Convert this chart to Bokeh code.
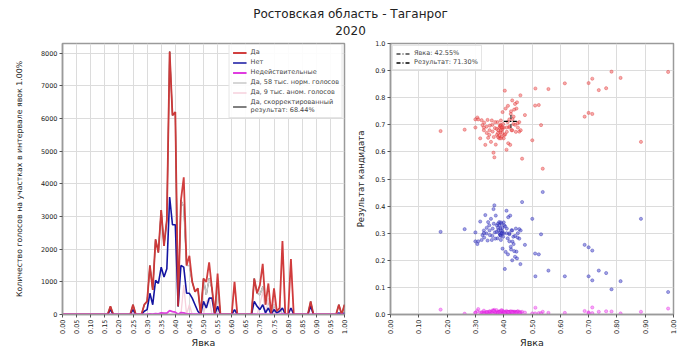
import math
import numpy as np
from bokeh.plotting import figure
from bokeh.layouts import column, row
from bokeh.models import FixedTicker, PrintfTickFormatter, Legend, LegendItem, Range1d
from bokeh.embed import file_html
from bokeh.resources import INLINE
from bokeh.core.properties import value

FONT = "DejaVu Sans"

title_lines = ["Ростовская область - Таганрог", "2020"]

# ---------------- histogram data (1% turnout bins 0.00 .. 1.00) ----------------
bins = np.round(np.arange(101) * 0.01, 2)

da = [
    0, 0, 0, 0, 0, 0, 0, 0, 0, 0,
    0, 0, 0, 0, 0, 0, 0, 250, 0, 0,
    0, 0, 0, 0, 0, 300, 0, 0, 0, 300,
    400, 1500, 750, 2300, 1900, 3200, 2100, 2900, 8050, 6100,
    6200, 250, 3500, 4200, 1500, 1800, 1000, 700, 800, 0,
    1100, 1000, 1600, 800, 0, 1250, 0, 0, 0, 0,
    0, 1000, 0, 0, 0, 0, 0, 0, 1100, 650,
    900, 1550, 300, 950, 0, 800, 100, 200, 2250, 0,
    0, 1700, 0, 0, 0, 0, 0, 0, 400, 0,
    0, 0, 0, 0, 0, 0, 0, 0, 300, 0,
    300]

net = [
    0, 0, 0, 0, 0, 0, 0, 0, 0, 0,
    0, 0, 0, 0, 0, 0, 0, 150, 0, 0,
    0, 0, 0, 0, 0, 150, 0, 0, 0, 100,
    150, 650, 300, 1050, 950, 1450, 1150, 1400, 3600, 2750,
    2750, 250, 1500, 1450, 650, 650, 500, 300, 100, 0,
    400, 200, 500, 500, 0, 250, 0, 0, 0, 0,
    0, 150, 0, 0, 0, 0, 0, 0, 400, 250,
    150, 300, 50, 200, 0, 150, 50, 100, 200, 0,
    0, 200, 0, 0, 0, 0, 0, 0, 250, 0,
    0, 0, 0, 0, 0, 0, 0, 0, 50, 0,
    50]

invalid_h = [
    0, 0, 0, 0, 0, 0, 0, 0, 0, 0,
    0, 0, 0, 0, 0, 0, 0, 5, 0, 0,
    0, 0, 0, 0, 0, 3, 0, 0, 0, 5,
    10, 20, 10, 30, 20, 50, 40, 40, 120, 90,
    70, 10, 60, 50, 20, 20, 10, 10, 10, 0,
    10, 10, 10, 10, 0, 10, 0, 0, 0, 0,
    0, 5, 0, 0, 0, 0, 0, 0, 10, 5,
    5, 10, 0, 5, 0, 5, 0, 0, 20, 0,
    0, 5, 0, 0, 0, 0, 0, 0, 5, 0,
    0, 0, 0, 0, 0, 0, 0, 0, 3, 0,
    3]

normal = [
    0, 0, 0, 0, 0, 0, 0, 0, 0, 0,
    0, 0, 0, 0, 0, 0, 0, 250, 0, 0,
    0, 0, 0, 0, 0, 300, 0, 0, 0, 300,
    400, 1500, 750, 2300, 1900, 3200, 2100, 2900, 8050, 6100,
    6200, 250, 3500, 3300, 1500, 1500, 1000, 700, 800, 0,
    1100, 600, 1100, 800, 0, 950, 0, 0, 0, 0,
    0, 0, 0, 0, 0, 0, 0, 0, 1100, 650,
    600, 850, 300, 450, 0, 300, 100, 200, 0, 0,
    0, 0, 0, 0, 0, 0, 0, 0, 400, 0,
    0, 0, 0, 0, 0, 0, 0, 0, 300, 0,
    300]

anomal = [
    0, 0, 0, 0, 0, 0, 0, 0, 0, 0,
    0, 0, 0, 0, 0, 0, 0, 0, 0, 0,
    0, 0, 0, 0, 0, 0, 0, 0, 0, 0,
    0, 0, 0, 0, 0, 0, 0, 0, 0, 0,
    0, 0, 0, 900, 0, 300, 0, 0, 0, 0,
    0, 400, 500, 0, 0, 300, 0, 0, 0, 0,
    0, 1000, 0, 0, 0, 0, 0, 0, 0, 0,
    300, 700, 0, 500, 0, 500, 0, 0, 2250, 0,
    0, 1700, 0, 0, 0, 0, 0, 0, 0, 0,
    0, 0, 0, 0, 0, 0, 0, 0, 0, 0,
    0]

corrected = normal

# ---------------- precinct data ----------------
turnout = [
    0.177, 0.262, 0.300, 0.307, 0.317, 0.322, 0.325, 0.331, 0.335, 0.339,
    0.343, 0.345, 0.349, 0.351, 0.355, 0.358, 0.361, 0.367, 0.364, 0.369,
    0.372, 0.376, 0.378, 0.381, 0.384, 0.387, 0.388, 0.390, 0.392, 0.395,
    0.396, 0.398, 0.402, 0.404, 0.407, 0.410, 0.411, 0.414, 0.416, 0.420,
    0.423, 0.426, 0.428, 0.431, 0.434, 0.437, 0.440, 0.443, 0.447, 0.449,
    0.455, 0.459, 0.465, 0.475, 0.501, 0.511, 0.512, 0.524, 0.532, 0.538,
    0.558, 0.616, 0.686, 0.700, 0.700, 0.713, 0.713, 0.736, 0.762, 0.781,
    0.813, 0.885, 0.981,
    0.385, 0.390, 0.395, 0.380, 0.390, 0.370, 0.360, 0.400, 0.410, 0.380,
    0.375, 0.395, 0.400, 0.405, 0.350, 0.340, 0.330, 0.365, 0.420, 0.430,
    0.440, 0.450, 0.460, 0.455, 0.330, 0.385, 0.390, 0.388, 0.392, 0.300,
    0.310, 0.420, 0.435, 0.425, 0.430, 0.415, 0.445]

yes_share = [
    0.677, 0.682, 0.690, 0.727, 0.650, 0.717, 0.699, 0.708, 0.626, 0.693,
    0.718, 0.652, 0.663, 0.697, 0.637, 0.716, 0.675, 0.580, 0.597, 0.688,
    0.627, 0.663, 0.710, 0.680, 0.650, 0.698, 0.672, 0.716, 0.656, 0.683,
    0.747, 0.703, 0.662, 0.826, 0.760, 0.608, 0.674, 0.710, 0.632, 0.694,
    0.626, 0.750, 0.680, 0.721, 0.703, 0.756, 0.777, 0.674, 0.783, 0.706,
    0.675, 0.809, 0.575, 0.736, 0.643, 0.771, 0.834, 0.773, 0.699, 0.538,
    0.832, 0.853, 0.730, 0.744, 0.854, 0.740, 0.870, 0.828, 0.835, 0.896,
    0.873, 0.637, 0.895,
    0.690, 0.680, 0.670, 0.670, 0.700, 0.710, 0.700, 0.690, 0.690, 0.655,
    0.685, 0.690, 0.650, 0.665, 0.680, 0.670, 0.680, 0.655, 0.690, 0.680,
    0.700, 0.690, 0.680, 0.710, 0.690, 0.660, 0.650, 0.695, 0.690, 0.720,
    0.720, 0.720, 0.730, 0.740, 0.790, 0.770, 0.760]

no_share = [
    0.305, 0.315, 0.303, 0.260, 0.343, 0.275, 0.293, 0.284, 0.367, 0.299,
    0.273, 0.341, 0.329, 0.293, 0.353, 0.275, 0.317, 0.403, 0.389, 0.303,
    0.365, 0.329, 0.281, 0.311, 0.341, 0.293, 0.319, 0.275, 0.335, 0.308,
    0.243, 0.287, 0.329, 0.168, 0.231, 0.383, 0.317, 0.281, 0.359, 0.296,
    0.365, 0.240, 0.311, 0.269, 0.287, 0.234, 0.213, 0.317, 0.207, 0.284,
    0.315, 0.186, 0.415, 0.257, 0.353, 0.225, 0.141, 0.222, 0.296, 0.452,
    0.162, 0.141, 0.257, 0.248, 0.141, 0.236, 0.126, 0.162, 0.153, 0.093,
    0.123, 0.353, 0.083,
    0.300, 0.310, 0.320, 0.320, 0.290, 0.280, 0.290, 0.300, 0.300, 0.335,
    0.305, 0.300, 0.340, 0.325, 0.310, 0.320, 0.310, 0.335, 0.300, 0.310,
    0.290, 0.300, 0.310, 0.280, 0.300, 0.330, 0.340, 0.295, 0.300, 0.270,
    0.270, 0.270, 0.260, 0.250, 0.200, 0.222, 0.232]

invalid_share = [
    0.018, 0.003, 0.007, 0.013, 0.007, 0.008, 0.008, 0.008, 0.007, 0.008,
    0.009, 0.007, 0.008, 0.010, 0.010, 0.009, 0.008, 0.017, 0.014, 0.009,
    0.008, 0.008, 0.009, 0.009, 0.009, 0.009, 0.009, 0.009, 0.009, 0.009,
    0.010, 0.010, 0.009, 0.006, 0.009, 0.009, 0.009, 0.009, 0.009, 0.010,
    0.009, 0.010, 0.009, 0.010, 0.010, 0.010, 0.010, 0.009, 0.010, 0.010,
    0.010, 0.005, 0.010, 0.007, 0.004, 0.004, 0.025, 0.005, 0.005, 0.010,
    0.006, 0.006, 0.013, 0.008, 0.005, 0.005, 0.026, 0.010, 0.012, 0.011,
    0.004, 0.010, 0.022,
    0.012, 0.006, 0.014, 0.004, 0.011, 0.008, 0.015, 0.005, 0.013, 0.007,
    0.016, 0.003, 0.011, 0.006, 0.012, 0.009, 0.004, 0.013, 0.007, 0.010,
    0.005, 0.012, 0.008, 0.006, 0.014, 0.009, 0.011, 0.004, 0.016, 0.006,
    0.020, 0.008, 0.005, 0.012, 0.007, 0.009, 0.006]

mean_turnout = 0.4255
mean_result = 0.7130
cross_half = 0.025

left_xticks = [round(i * 0.05, 2) for i in range(21)]
left_yticks = [0, 1000, 2000, 3000, 4000, 5000, 6000, 7000, 8000]
right_xticks = [round(i * 0.1, 1) for i in range(11)]
right_yticks = [round(i * 0.1, 1) for i in range(11)]

GRID = "#dcdcdc"
FRAME = "#9a9a9a"


def style(p):
    p.outline_line_color = FRAME
    p.outline_line_width = 1.5
    p.background_fill_color = "white"
    p.border_fill_color = "white"
    for ax in p.axis:
        ax.axis_line_color = FRAME
        ax.axis_line_width = 1.5
        ax.major_tick_line_color = "#555555"
        ax.major_tick_out = 3
        ax.major_tick_in = 0
        ax.minor_tick_line_color = None
        ax.major_label_text_font = FONT
        ax.major_label_text_font_size = "6.5px"
        ax.major_label_text_color = "#222222"
        ax.major_label_standoff = 2
        ax.axis_label_text_font = FONT
        ax.axis_label_text_font_size = "9.5px"
        ax.axis_label_text_font_style = "normal"
        ax.axis_label_text_color = "#222222"
    p.grid.grid_line_color = GRID
    p.grid.grid_line_width = 1


# ---------------- title ----------------
tp = figure(width=700, height=40, x_range=(0, 1), y_range=(0, 1),
            toolbar_location=None, output_backend="svg", min_border=0)
tp.axis.visible = False
tp.grid.visible = False
tp.outline_line_color = None
tp.text(x=[0.5, 0.5], y=[0.67, 0.25], text=title_lines, text_align="center",
        text_baseline="middle", text_font=value(FONT), text_font_size="12px",
        text_color="#222222")

# ---------------- left: histogram ----------------
left = figure(width=350, height=310, x_range=Range1d(0, 1), y_range=Range1d(0, 8300),
              toolbar_location=None, output_backend="svg",
              min_border_left=62, min_border_right=6, min_border_top=3, min_border_bottom=28)
style(left)
left.xaxis.ticker = FixedTicker(ticks=left_xticks)
left.xaxis.formatter = PrintfTickFormatter(format="%.2f")
left.xaxis.major_label_orientation = math.pi / 2
left.yaxis.ticker = FixedTicker(ticks=left_yticks)
left.xaxis.axis_label = "Явка"
left.yaxis.axis_label = "Количество голосов на участках в интервале явок 1.00%"
left.yaxis.axis_label_text_font_size = "7.8px"
left.xaxis.axis_label_standoff = 0
left.yaxis.axis_label_standoff = 14

r_corr = left.line(bins, corrected, line_color="black", line_width=1.0)
r_norm = left.line(bins, normal, line_color="#c8c8c8", line_width=1.5)
r_anom = left.line(bins, anomal, line_color="#f6d0dc", line_width=1.3)
r_net = left.line(bins, net, line_color="#1414a0", line_width=1.6)
r_da = left.line(bins, da, line_color="#cc2a2a", line_width=1.8, line_alpha=0.9)
r_inv = left.line(bins, invalid_h, line_color="#e03ce0", line_width=1.8)

leg_l = Legend(items=[
    LegendItem(label="Да", renderers=[r_da]),
    LegendItem(label="Нет", renderers=[r_net]),
    LegendItem(label="Недействительные", renderers=[r_inv]),
    LegendItem(label="Да, 58 тыс. норм. голосов", renderers=[r_norm]),
    LegendItem(label="Да, 9 тыс. аном. голосов", renderers=[r_anom]),
    LegendItem(label="Да, скорректированный\nрезультат: 68.44%", renderers=[r_corr]),
], location="top_right")
leg_l.label_text_font = FONT
leg_l.label_text_font_size = "6.5px"
leg_l.label_height = 7
leg_l.glyph_height = 7
leg_l.glyph_width = 14
leg_l.spacing = 2
leg_l.padding = 3
leg_l.margin = 1
leg_l.label_standoff = 4
leg_l.border_line_color = "#cccccc"
leg_l.background_fill_alpha = 0.9
left.add_layout(leg_l)

# ---------------- right: scatter ----------------
right = figure(width=350, height=310, x_range=Range1d(0, 1), y_range=Range1d(0, 1),
               toolbar_location=None, output_backend="svg",
               min_border_left=40, min_border_right=27, min_border_top=2, min_border_bottom=28)
style(right)
right.xaxis.ticker = FixedTicker(ticks=right_xticks)
right.xaxis.formatter = PrintfTickFormatter(format="%.2f")
right.xaxis.major_label_orientation = math.pi / 2
right.yaxis.ticker = FixedTicker(ticks=right_yticks)
right.yaxis.formatter = PrintfTickFormatter(format="%.1f")
right.xaxis.axis_label = "Явка"
right.yaxis.axis_label = "Результат кандидата"
right.yaxis.axis_label_text_font_size = "8.5px"
right.xaxis.axis_label_standoff = 0
right.yaxis.axis_label_standoff = 6

right.scatter(turnout, yes_share, size=3.2, fill_color="#ee5555", fill_alpha=0.5,
              line_color="#dd2a2a", line_alpha=0.7, line_width=0.5)
right.scatter(turnout, no_share, size=3.2, fill_color="#4444cc", fill_alpha=0.5,
              line_color="#2020aa", line_alpha=0.7, line_width=0.5)
right.scatter(turnout, invalid_share, size=3.2, fill_color="#f050f0", fill_alpha=0.5,
              line_color="#e020e0", line_alpha=0.7, line_width=0.5)

r_vt = right.segment(x0=[mean_turnout], y0=[mean_result - cross_half],
                     x1=[mean_turnout], y1=[mean_result + cross_half],
                     line_color="#444444", line_width=1.3, line_dash="4 2 1 2")
r_hr = right.segment(x0=[mean_turnout - cross_half], y0=[mean_result],
                     x1=[mean_turnout + cross_half], y1=[mean_result],
                     line_color="black", line_width=1.3, line_dash="4 2 1 2")

leg_r = Legend(items=[
    LegendItem(label="Явка: 42.55%", renderers=[r_vt]),
    LegendItem(label="Результат: 71.30%", renderers=[r_hr]),
], location="top_left")
leg_r.label_text_font = FONT
leg_r.label_text_font_size = "6.5px"
leg_r.label_height = 7
leg_r.glyph_height = 7
leg_r.glyph_width = 14
leg_r.spacing = 1
leg_r.padding = 3
leg_r.margin = 2
leg_r.label_standoff = 4
leg_r.border_line_color = "#cccccc"
leg_r.background_fill_alpha = 0.9
right.add_layout(leg_r)

layout = column(tp, row(left, right))
open("out.html", "w").write(file_html(layout, INLINE))
